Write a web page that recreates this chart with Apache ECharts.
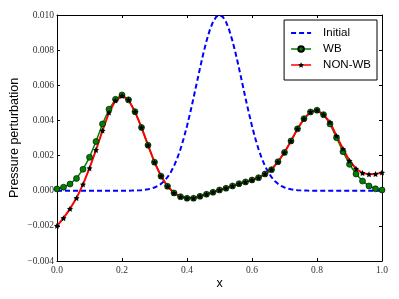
<!DOCTYPE html>
<html>
<head>
<meta charset="utf-8">
<script src="https://cdn.jsdelivr.net/npm/echarts@6/dist/echarts.min.js"></script>
<style>html,body{margin:0;padding:0;background:#fff}#c{width:399px;height:299px}</style>
</head>
<body>
<div id="c"></div>
<script>
// x positions of the solution samples
const xs = [0.00,0.02,0.04,0.06,0.08,0.10,0.12,0.14,0.16,0.18,0.20,0.22,0.24,0.26,0.28,0.30,0.32,0.34,0.36,0.38,0.40,0.42,0.44,0.46,0.48,0.50,0.52,0.54,0.56,0.58,0.60,0.62,0.64,0.66,0.68,0.70,0.72,0.74,0.76,0.78,0.80,0.82,0.84,0.86,0.88,0.90,0.92,0.94,0.96,0.98,1.00];
const wb = [0.0001,0.0002,0.00038,0.0007,0.00122,0.0019,0.0028,0.0038,0.00464,0.0052,0.00545,0.00517,0.0045,0.0036,0.00259,0.00162,0.00083,0.00025,-0.00013,-0.00034,-0.00043,-0.00043,-0.00032,-0.0002,-0.00009,0.00004,0.00014,0.00027,0.0004,0.0005,0.00061,0.00074,0.00095,0.0012,0.00165,0.00218,0.00283,0.00352,0.0041,0.00448,0.00458,0.00433,0.0038,0.00302,0.00222,0.0015,0.00095,0.00055,0.00027,0.00011,0.00004];
const nonwb = [-0.002,-0.00156,-0.00103,-0.00042,0.00036,0.00128,0.00232,0.00342,0.00445,0.00513,0.0054,0.00517,0.0045,0.0036,0.00259,0.00162,0.00083,0.00025,-0.00013,-0.00034,-0.00043,-0.00043,-0.00032,-0.0002,-0.00009,0.00004,0.00014,0.00027,0.0004,0.0005,0.00061,0.00074,0.00095,0.0012,0.00165,0.00218,0.00283,0.00352,0.0041,0.00448,0.00458,0.00433,0.0039,0.00312,0.00238,0.00171,0.00125,0.00101,0.00093,0.00095,0.00103];
// initial condition, sampled finer
const xFine = [0.00,0.01,0.02,0.03,0.04,0.05,0.06,0.07,0.08,0.09,0.10,0.11,0.12,0.13,0.14,0.15,0.16,0.17,0.18,0.19,0.20,0.21,0.22,0.23,0.24,0.25,0.26,0.27,0.28,0.29,0.30,0.31,0.32,0.33,0.34,0.35,0.36,0.37,0.38,0.39,0.40,0.41,0.42,0.43,0.44,0.45,0.46,0.47,0.48,0.49,0.50,0.51,0.52,0.53,0.54,0.55,0.56,0.57,0.58,0.59,0.60,0.61,0.62,0.63,0.64,0.65,0.66,0.67,0.68,0.69,0.70,0.71,0.72,0.73,0.74,0.75,0.76,0.77,0.78,0.79,0.80,0.81,0.82,0.83,0.84,0.85,0.86,0.87,0.88,0.89,0.90,0.91,0.92,0.93,0.94,0.95,0.96,0.97,0.98,0.99,1.00];
const initial = [0,0,0,0,0,0,0,0,0,0,0,0,0,0,0,0,0,0,0,0,0.000001,0.0000022,0.0000039,0.0000068,0.0000116,0.0000193,0.0000315,0.0000504,0.0000791,0.0001216,0.0001832,0.0002705,0.0003916,0.0005558,0.000773,0.001054,0.0014086,0.0018452,0.0023693,0.002982,0.0036788,0.0044486,0.0052729,0.0061263,0.0069768,0.007788,0.0085214,0.0091393,0.0096079,0.0099005,0.01,0.0099005,0.0096079,0.0091393,0.0085214,0.007788,0.0069768,0.0061263,0.0052729,0.0044486,0.0036788,0.002982,0.0023693,0.0018452,0.0014086,0.001054,0.000773,0.0005558,0.0003916,0.0002705,0.0001832,0.0001216,0.0000791,0.0000504,0.0000315,0.0000193,0.0000116,0.0000068,0.0000039,0.0000022,0.000001,0,0,0,0,0,0,0,0,0,0,0,0,0,0,0,0,0,0,0,0];
const seriesNames = ['Initial','WB','NON-WB'];
const xLabel = 'x';
const yLabel = 'Pressure perturbation';

const star = 'path://M0,-10 L2.9,-4 9.5,-3.1 4.8,1.5 5.9,8.1 0,5 -5.9,8.1 -4.8,1.5 -9.5,-3.1 -2.9,-4Z';
const tickFont = {fontFamily:'Liberation Serif', fontSize:9.5, color:'#333'};
const axisLineStyle = {onZero:false, lineStyle:{color:'#000', width:1}};
const tickStyle = {show:true, inside:true, length:3, lineStyle:{color:'#000'}};

const chart = echarts.init(document.getElementById('c'), null, {renderer:'canvas'});
chart.setOption({
  animation:false,
  backgroundColor:'#fff',
  grid:{left:57, right:17, top:15, bottom:38, containLabel:false, outerBoundsMode:'none'},
  legend:{
    orient:'vertical', right:22, top:20,
    backgroundColor:'#fff', borderColor:'#000', borderWidth:1, borderRadius:0,
    padding:[7,6,9,6], itemGap:4, itemWidth:20, itemHeight:7,
    textStyle:{fontFamily:'Liberation Sans', fontSize:11.5, color:'#000', padding:[0,0,0,7], lineHeight:12},
    data:[
      {name:seriesNames[0], itemStyle:{opacity:0}, lineStyle:{type:[5,3], width:2, color:'#0000ff'}},
      {name:seriesNames[1], lineStyle:{width:1.5, color:'#008000'}},
      {name:seriesNames[2], lineStyle:{width:1.5, color:'#ff0000'}}
    ]
  },
  xAxis:[
    {type:'value', min:0, max:1, interval:0.2, position:'bottom',
     name:xLabel, nameLocation:'middle', nameGap:16, nameMoveOverlap:false,
     nameTextStyle:{fontFamily:'Liberation Sans', fontSize:12.5, color:'#000'},
     axisLine:axisLineStyle, axisTick:tickStyle, splitLine:{show:false},
     axisLabel:Object.assign({margin:4, formatter:v=>v.toFixed(1)}, tickFont)},
    {type:'value', min:0, max:1, interval:0.2, position:'top',
     axisLine:axisLineStyle, axisTick:tickStyle, splitLine:{show:false}, axisLabel:{show:false}}
  ],
  yAxis:[
    {type:'value', min:-0.004, max:0.010, interval:0.002, position:'left',
     name:yLabel, nameLocation:'middle', nameGap:36, nameMoveOverlap:false,
     nameTextStyle:{fontFamily:'Liberation Sans', fontSize:12.5, color:'#000'},
     axisLine:axisLineStyle, axisTick:tickStyle, splitLine:{show:false},
     axisLabel:Object.assign({margin:3, formatter:v=>(v<0?'\u2212':'')+Math.abs(v).toFixed(3)}, tickFont)},
    {type:'value', min:-0.004, max:0.010, interval:0.002, position:'right',
     axisLine:axisLineStyle, axisTick:tickStyle, splitLine:{show:false}, axisLabel:{show:false}}
  ],
  series:[
    {name:seriesNames[0], type:'line', xAxisIndex:0, yAxisIndex:0,
     data:xFine.map((x,i)=>[x, initial[i]]),
     showSymbol:false, symbol:'none',
     lineStyle:{color:'#0000ff', width:2, type:[5,3]}, itemStyle:{color:'#0000ff'}},
    {name:seriesNames[1], type:'line', xAxisIndex:0, yAxisIndex:0,
     data:xs.map((x,i)=>[x, wb[i]]),
     symbol:'circle', symbolSize:6, showAllSymbol:true,
     lineStyle:{color:'#008000', width:1.5},
     itemStyle:{color:'#008000', borderColor:'#000', borderWidth:0.6}},
    {name:seriesNames[2], type:'line', xAxisIndex:0, yAxisIndex:0,
     data:xs.map((x,i)=>[x, nonwb[i]]),
     symbol:star, symbolSize:6, showAllSymbol:true,
     lineStyle:{color:'#ff0000', width:2},
     itemStyle:{color:'#000', borderColor:'#000', borderWidth:0}}
  ]
});
</script>
</body>
</html>
